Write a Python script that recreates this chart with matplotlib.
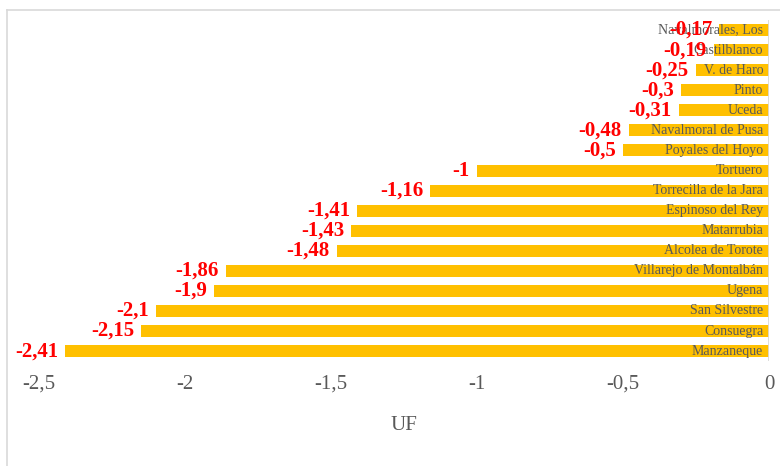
import matplotlib
matplotlib.use("Agg")
import matplotlib.pyplot as plt
from matplotlib.lines import Line2D

categories = ["Navalmorales, Los", "Castilblanco", "V. de Haro", "Pinto", "Uceda",
              "Navalmoral de Pusa", "Poyales del Hoyo", "Tortuero", "Torrecilla de la Jara",
              "Espinoso del Rey", "Matarrubia", "Alcolea de Torote", "Villarejo de Montalbán",
              "Ugena", "San Silvestre", "Consuegra", "Manzaneque"]
values = [-0.17, -0.19, -0.25, -0.3, -0.31, -0.48, -0.5, -1, -1.16, -1.41, -1.43, -1.48,
          -1.86, -1.9, -2.1, -2.15, -2.41]
xticks = [-2.5, -2, -1.5, -1, -0.5, 0]
xticklabels = ["-2,5", "-2", "-1,5", "-1", "-0,5", "0"]

serif = "Liberation Serif"
fig = plt.figure(figsize=(7.8, 4.66), dpi=100)
ax = fig.add_axes([0.05, 0.225, 0.936, 0.732])

n = len(categories)
ypos = [n - 1 - i for i in range(n)]
ax.barh(ypos, values, height=0.6, color="#FFC000", edgecolor="none", zorder=2)

for y, v, c in zip(ypos, values, categories):
    ax.text(-0.02, y, c, ha="right", va="center", fontsize=10, family=serif,
            color="#595959", zorder=4)
    ax.text(v - 0.025, y, str(v).replace(".", ","), ha="right", va="center",
            fontsize=15, family=serif, fontweight="bold", color="#FF0000", zorder=5)

ax.set_xlim(-2.5, 0)
ax.set_ylim(-0.5, n - 0.5)
ax.axvline(0, color="#D9D9D9", lw=2, zorder=3)
ax.set_xticks(xticks)
ax.set_xticklabels(xticklabels, family=serif, fontsize=15, color="#595959")
ax.set_yticks([])
ax.tick_params(axis="x", length=0, pad=10)
for s in ax.spines.values():
    s.set_visible(False)
ax.set_xlabel("UF", family=serif, fontsize=15, color="#595959", labelpad=16)

fig.add_artist(Line2D([7/780, 7/780], [0, 1 - 10/466], transform=fig.transFigure,
                      color="#D9D9D9", lw=1.2))
fig.add_artist(Line2D([7/780, 1], [1 - 10/466, 1 - 10/466], transform=fig.transFigure,
                      color="#D9D9D9", lw=1.2))

fig.savefig("out.png", dpi=100)
